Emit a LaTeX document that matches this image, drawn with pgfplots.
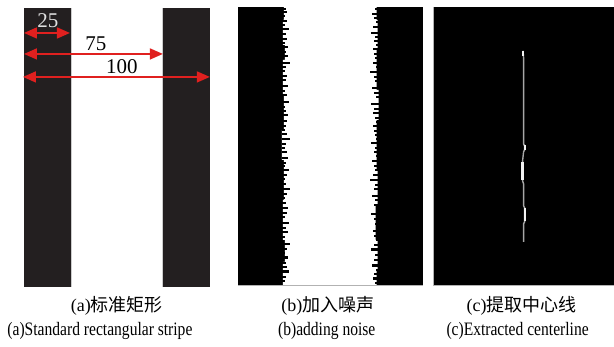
\documentclass[border=0pt]{standalone}
\usepackage{pgfplots}
\pgfplotsset{compat=1.18}
\usepackage{fontspec}
\setmainfont{Liberation Serif}
\newfontfamily\cjk{Noto Sans CJK SC}
\usetikzlibrary{arrows.meta}
\definecolor{stripe}{HTML}{231F20}
\definecolor{arrowred}{HTML}{E0201F}
\begin{document}
\begin{tikzpicture}
\begin{axis}[
  scale only axis, width=307pt, height=173.5pt,
  xmin=0, xmax=614, ymin=0, ymax=347, y dir=reverse,
  hide axis, clip=false, unbounded coords=jump,
]
% background
\addplot[fill=white, draw=none] coordinates {(0,0)(614,0)(614,347)(0,347)} -- cycle;
% ---- panel (a)
\addplot[fill=stripe, draw=none] coordinates {(24,8)(71,8)(71,287)(24,287)} -- cycle;
\addplot[fill=stripe, draw=none] coordinates {(163,8)(210,8)(210,287)(163,287)} -- cycle;
\addplot[gray!40, line width=0.4pt] coordinates {(71.5,8)(71.5,287)};
\addplot[gray!40, line width=0.4pt] coordinates {(162.5,8)(162.5,287)};
\addplot[arrowred, line width=0.8pt, {Triangle[length=6.5pt,width=5.5pt]}-{Triangle[length=6.5pt,width=5.5pt]}] coordinates {(24,33)(70,33)};
\addplot[arrowred, line width=0.8pt, {Triangle[length=6.5pt,width=5.5pt]}-{Triangle[length=6.5pt,width=5.5pt]}] coordinates {(24,54)(163,54)};
\addplot[arrowred, line width=0.8pt, {Triangle[length=6.5pt,width=5.5pt]}-{Triangle[length=6.5pt,width=5.5pt]}] coordinates {(23,77)(210,77)};
\node[text=white!88!black, font=\fontsize{10.5pt}{12pt}\selectfont, inner sep=0pt] at (axis cs:48,21) {25};
\node[text=black, font=\fontsize{10.5pt}{12pt}\selectfont, inner sep=0pt] at (axis cs:96,44) {75};
\node[text=black, font=\fontsize{10.5pt}{12pt}\selectfont, inner sep=0pt] at (axis cs:122,67) {100};
% ---- panel (b)
\addplot[fill=black, draw=none] coordinates {(238,7)(423,7)(423,285)(238,285)} -- cycle;
\addplot[fill=white, draw=none] coordinates {
(284,7)(284,20)(283,20)(283,45)(285,45)(285,60)(283,60)(283,95)(284,95)(284,130)(282,130)(282,160)(284,160)(284,200)(283,200)(283,240)(285,240)(285,262)(283,262)(283,285)
(377,285)(377,270)(378,270)(378,240)(376,240)(376,205)(378,205)(378,170)(377,170)(377,120)(379,120)(379,90)(377,90)(377,50)(378,50)(378,20)(377,20)(377,7)
} -- cycle;
\addplot[gray!60, line width=0.5pt] coordinates {(238,285.5)(423,285.5)};
% left edge spikes (thick)
\addplot[black, line width=1.3pt] coordinates {
(282,12)(287,12)(nan,nan)(282,29)(289,29)(nan,nan)(282,47)(288,47)(nan,nan)(282,63)(290,63)(nan,nan)
(282,86)(288,86)(nan,nan)(282,102)(289,102)(nan,nan)(282,121)(287,121)(nan,nan)(282,139)(290,139)(nan,nan)
(282,158)(288,158)(nan,nan)(282,170)(289,170)(nan,nan)(282,189)(290,189)(nan,nan)(282,208)(288,208)(nan,nan)
(282,223)(289,223)(nan,nan)(282,244)(290,244)(nan,nan)(282,258)(288,258)(nan,nan)(282,272)(289,272)
};
% left edge spikes (thin)
\addplot[black, line width=0.8pt] coordinates {
(282,9)(286,9)(nan,nan)(282,16)(285,16)(nan,nan)(282,21)(287,21)(nan,nan)(282,25)(285,25)(nan,nan)
(282,34)(286,34)(nan,nan)(282,39)(287,39)(nan,nan)(282,43)(285,43)(nan,nan)(282,52)(286,52)(nan,nan)
(282,56)(288,56)(nan,nan)(282,67)(286,67)(nan,nan)(282,71)(285,71)(nan,nan)(282,76)(287,76)(nan,nan)
(282,80)(286,80)(nan,nan)(282,91)(285,91)(nan,nan)(282,95)(287,95)(nan,nan)(282,107)(285,107)(nan,nan)
(282,111)(286,111)(nan,nan)(282,115)(288,115)(nan,nan)(282,126)(286,126)(nan,nan)(282,130)(285,130)(nan,nan)
(282,134)(287,134)(nan,nan)(282,144)(286,144)(nan,nan)(282,148)(285,148)(nan,nan)(282,152)(287,152)(nan,nan)
(282,163)(286,163)(nan,nan)(282,166)(285,166)(nan,nan)(282,175)(287,175)(nan,nan)(282,179)(285,179)(nan,nan)
(282,184)(286,184)(nan,nan)(282,194)(287,194)(nan,nan)(282,198)(285,198)(nan,nan)(282,203)(286,203)(nan,nan)
(282,213)(287,213)(nan,nan)(282,217)(285,217)(nan,nan)(282,228)(286,228)(nan,nan)(282,232)(288,232)(nan,nan)
(282,237)(285,237)(nan,nan)(282,249)(287,249)(nan,nan)(282,253)(285,253)(nan,nan)(282,263)(286,263)(nan,nan)
(282,267)(287,267)(nan,nan)(282,277)(286,277)(nan,nan)(282,281)(285,281)
};
% right edge spikes (thick)
\addplot[black, line width=1.3pt] coordinates {
(379,14)(372,14)(nan,nan)(379,33)(371,33)(nan,nan)(379,49)(373,49)(nan,nan)(379,72)(370,72)(nan,nan)
(379,88)(372,88)(nan,nan)(379,104)(371,104)(nan,nan)(379,126)(373,126)(nan,nan)(379,143)(371,143)(nan,nan)
(379,161)(372,161)(nan,nan)(379,180)(370,180)(nan,nan)(379,196)(372,196)(nan,nan)(379,214)(371,214)(nan,nan)
(379,231)(373,231)(nan,nan)(379,250)(371,250)(nan,nan)(379,266)(372,266)(nan,nan)(379,279)(373,279)
};
% right edge spikes (thin)
\addplot[black, line width=0.8pt] coordinates {
(379,9)(375,9)(nan,nan)(379,18)(374,18)(nan,nan)(379,22)(376,22)(nan,nan)(379,27)(373,27)(nan,nan)
(379,37)(375,37)(nan,nan)(379,41)(374,41)(nan,nan)(379,45)(376,45)(nan,nan)(379,54)(374,54)(nan,nan)
(379,58)(375,58)(nan,nan)(379,63)(373,63)(nan,nan)(379,67)(376,67)(nan,nan)(379,77)(374,77)(nan,nan)
(379,81)(375,81)(nan,nan)(379,93)(374,93)(nan,nan)(379,97)(376,97)(nan,nan)(379,109)(374,109)(nan,nan)
(379,113)(373,113)(nan,nan)(379,118)(375,118)(nan,nan)(379,122)(376,122)(nan,nan)(379,131)(374,131)(nan,nan)
(379,135)(375,135)(nan,nan)(379,139)(376,139)(nan,nan)(379,148)(375,148)(nan,nan)(379,152)(374,152)(nan,nan)
(379,156)(376,156)(nan,nan)(379,166)(374,166)(nan,nan)(379,170)(375,170)(nan,nan)(379,175)(373,175)(nan,nan)
(379,185)(375,185)(nan,nan)(379,189)(374,189)(nan,nan)(379,200)(375,200)(nan,nan)(379,205)(374,205)(nan,nan)
(379,209)(376,209)(nan,nan)(379,219)(374,219)(nan,nan)(379,224)(375,224)(nan,nan)(379,236)(374,236)(nan,nan)
(379,240)(376,240)(nan,nan)(379,245)(374,245)(nan,nan)(379,255)(375,255)(nan,nan)(379,260)(374,260)(nan,nan)
(379,270)(376,270)(nan,nan)(379,274)(374,274)(nan,nan)(379,283)(375,283)
};
% ---- panel (c)
\addplot[fill=black, draw=none] coordinates {(434,7)(614,7)(614,285)(434,285)} -- cycle;
\addplot[gray!60, line width=0.5pt] coordinates {(434,7)(434,285.5)(614,285.5)};
\addplot[gray!70, line width=0.7pt] coordinates {
(523.5,51)(524,58)(524,144)(525,146)(525,150)(524,152)(523,161)(523,181)(524,184)(524,206)(525,208)(525,222)(524,224)(524,242)
};
\addplot[white!90!gray, line width=1.2pt] coordinates {(523.3,51)(523.3,56)(nan,nan)(525.2,145)(525.2,150)(nan,nan)(522.8,162)(522.8,180)(nan,nan)(525.2,208)(525.2,221)};
% ---- captions
\node[font=\fontsize{9pt}{10pt}\selectfont, inner sep=0pt] at (axis cs:117,306) {(a)\cjk 标准矩形};
\node[font=\fontsize{9pt}{10pt}\selectfont, inner sep=0pt] at (axis cs:328,306) {(b)\cjk 加入噪声};
\node[font=\fontsize{9pt}{10pt}\selectfont, inner sep=0pt] at (axis cs:522,306) {(c)\cjk 提取中心线};
\node[font=\fontsize{9.5pt}{11pt}\selectfont, inner sep=0pt, xscale=0.82] at (axis cs:100,331) {(a)Standard rectangular stripe};
\node[font=\fontsize{9.5pt}{11pt}\selectfont, inner sep=0pt, xscale=0.82] at (axis cs:327,331) {(b)adding noise};
\node[font=\fontsize{9.5pt}{11pt}\selectfont, inner sep=0pt, xscale=0.82] at (axis cs:518,331) {(c)Extracted centerline};
\end{axis}
\end{tikzpicture}
\end{document}
